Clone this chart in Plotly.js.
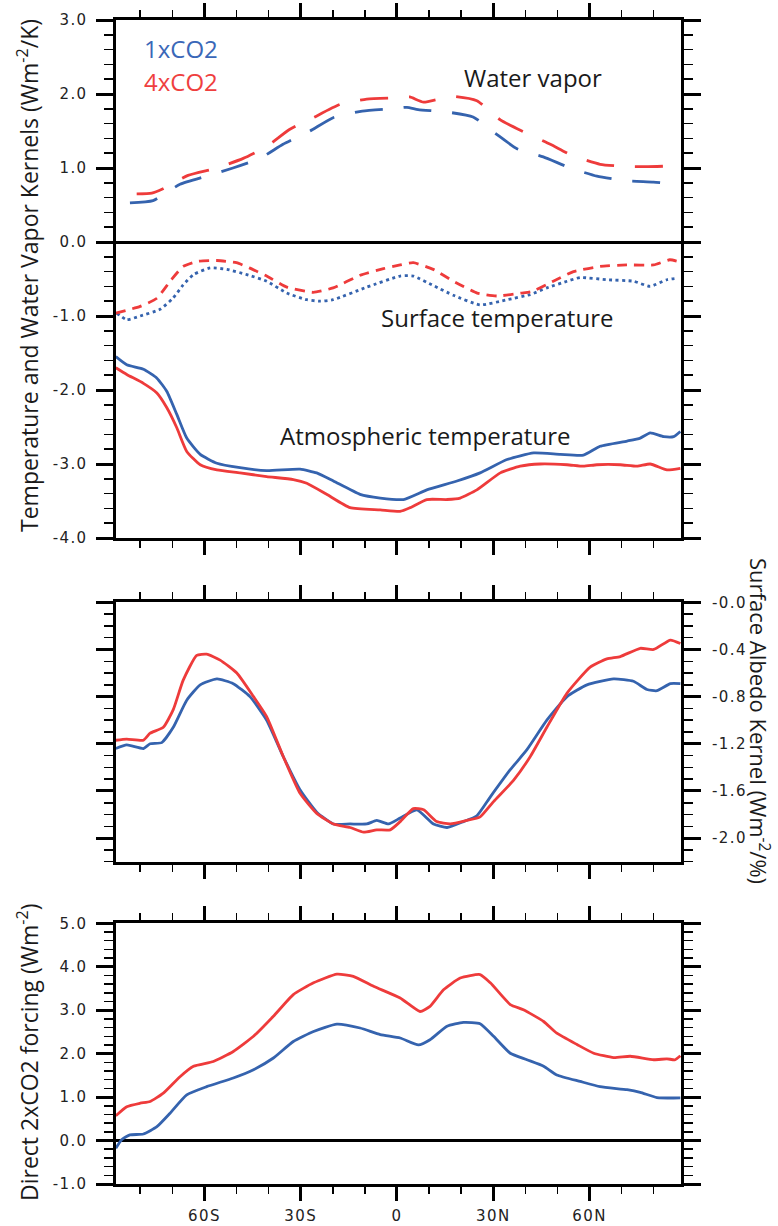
<!DOCTYPE html>
<html><head><meta charset="utf-8">
<script src="https://cdn.plot.ly/plotly-3.0.1.min.js"></script>
<style>
html,body{margin:0;padding:0;background:#fff;}
#chart{width:778px;height:1226px;}
.xaxislayer-above text,.yaxislayer-above text{letter-spacing:1.4px;}
</style></head><body><div id="chart"></div>
<script>
// ---- Data (latitude in degrees, negative = south) ----
const latWv1 = [-83.2,-76.0,-67.6,-59.3,-51.1,-42.7,-35.5,-27.1,-19.9,-10.8,-2.1,3.1,6.6,15.0,23.7,30.6,37.4,45.6,54.0,62.3,71.1,79.9,87.7];
const wv1 = [0.53,0.56,0.78,0.89,1.00,1.13,1.32,1.50,1.68,1.77,1.80,1.82,1.79,1.76,1.69,1.47,1.26,1.15,1.00,0.89,0.83,0.81,0.78];
const latWv4 = [-81.1,-76.4,-72.9,-65.1,-56.1,-47.9,-40.6,-33.5,-26.1,-17.7,-9.4,1.0,4.0,8.3,17.1,24.9,32.2,38.9,47.8,54.5,63.3,71.7,81.0,87.3,88.4];
const wv4 = [0.65,0.66,0.72,0.90,1.00,1.13,1.29,1.52,1.68,1.86,1.93,1.95,1.96,1.89,1.97,1.91,1.65,1.50,1.32,1.17,1.05,1.02,1.02,1.04,1.07];

const latSt1 = [-87.3,-84.2,-80.0,-73.8,-69.8,-66.6,-63.4,-58.2,-53.0,-46.8,-40.6,-34.3,-28.1,-23.9,-19.9,-9.4,1.0,5.1,11.4,17.6,25.9,34.3,41.5,46.7,53.0,57.1,65.4,73.7,78.9,84.1,87.3];
const st1 = [-0.96,-1.05,-1.00,-0.91,-0.76,-0.58,-0.44,-0.35,-0.37,-0.44,-0.53,-0.69,-0.78,-0.80,-0.78,-0.61,-0.46,-0.46,-0.59,-0.72,-0.85,-0.78,-0.71,-0.62,-0.53,-0.48,-0.51,-0.53,-0.60,-0.51,-0.49];
const latSt4 = [-87.6,-80.0,-74.8,-70.5,-66.6,-62.0,-56.1,-50.0,-46.0,-40.6,-34.3,-26.1,-19.9,-11.5,-4.2,1.0,5.1,11.3,17.6,25.0,31.2,38.7,42.0,48.7,55.0,63.3,71.6,80.0,85.0,88.3];
const st4 = [-0.96,-0.87,-0.76,-0.52,-0.33,-0.26,-0.25,-0.28,-0.35,-0.46,-0.61,-0.68,-0.62,-0.45,-0.36,-0.31,-0.28,-0.37,-0.53,-0.69,-0.73,-0.69,-0.67,-0.53,-0.40,-0.33,-0.31,-0.31,-0.24,-0.27];

const latAt1 = [-87.6,-84.2,-79.0,-74.8,-71.7,-68.6,-65.5,-61.3,-56.1,-48.9,-40.6,-30.2,-25.0,-19.8,-11.5,-5.2,2.0,9.3,18.7,25.9,34.3,42.6,50.9,58.1,63.3,71.7,75.8,78.9,83.1,86.2,88.3];
const at1 = [-1.55,-1.66,-1.72,-1.84,-2.02,-2.33,-2.65,-2.87,-2.99,-3.05,-3.09,-3.07,-3.12,-3.23,-3.41,-3.46,-3.48,-3.35,-3.23,-3.12,-2.94,-2.85,-2.87,-2.88,-2.76,-2.69,-2.65,-2.58,-2.63,-2.63,-2.56];
const latAt4 = [-87.6,-84.2,-79.0,-74.8,-71.7,-68.6,-65.5,-61.3,-56.1,-48.9,-40.6,-32.3,-28.1,-21.9,-14.6,-5.2,1.0,4.1,9.3,15.6,19.7,24.9,32.2,38.4,44.6,53.0,58.1,62.3,69.6,74.8,78.9,84.1,88.3];
const at4 = [-1.70,-1.79,-1.91,-2.04,-2.24,-2.51,-2.83,-3.01,-3.08,-3.12,-3.17,-3.21,-3.26,-3.41,-3.59,-3.62,-3.64,-3.59,-3.48,-3.48,-3.46,-3.35,-3.12,-3.03,-3.00,-3.01,-3.03,-3.01,-3.01,-3.03,-3.00,-3.08,-3.06];

const latAlb1 = [-87.6,-84.2,-79.0,-76.9,-73.3,-69.7,-65.5,-61.3,-56.1,-51.0,-45.8,-40.6,-35.4,-30.2,-25.0,-19.8,-14.6,-9.4,-6.3,-2.6,1.0,6.2,11.4,15.6,20.7,24.9,29.1,35.3,40.5,46.7,53.0,59.2,67.5,73.7,77.9,81.0,85.2,88.3];
const alb1 = [-1.24,-1.21,-1.24,-1.20,-1.19,-1.06,-0.83,-0.70,-0.65,-0.69,-0.80,-1.00,-1.31,-1.59,-1.78,-1.88,-1.88,-1.88,-1.85,-1.88,-1.83,-1.76,-1.88,-1.91,-1.86,-1.81,-1.65,-1.42,-1.25,-1.00,-0.80,-0.70,-0.65,-0.67,-0.74,-0.75,-0.69,-0.69];
const latAlb4 = [-87.6,-84.2,-79.0,-76.9,-72.8,-69.7,-66.6,-62.4,-59.3,-55.1,-49.9,-44.7,-40.6,-35.4,-30.2,-25.0,-19.8,-14.6,-10.4,-6.3,-2.1,1.0,5.1,8.3,12.4,16.6,21.8,25.9,30.1,36.3,41.5,46.7,53.0,60.2,65.4,69.6,75.8,80.0,85.2,88.3];
const alb4 = [-1.17,-1.16,-1.17,-1.11,-1.06,-0.91,-0.66,-0.45,-0.44,-0.49,-0.60,-0.80,-0.97,-1.31,-1.62,-1.79,-1.88,-1.91,-1.95,-1.93,-1.93,-1.86,-1.75,-1.76,-1.86,-1.88,-1.85,-1.82,-1.69,-1.51,-1.31,-1.06,-0.77,-0.55,-0.48,-0.46,-0.39,-0.40,-0.32,-0.35];

const latF1 = [-87.6,-85.8,-83.2,-79.0,-74.8,-70.7,-65.5,-59.3,-51.0,-44.7,-38.5,-32.3,-26.0,-18.7,-11.5,-5.2,1.0,6.7,10.3,15.6,20.7,25.9,30.1,35.3,40.5,45.7,49.8,57.1,63.3,71.7,75.8,81.0,88.3];
const f1 = [-0.18,0.02,0.13,0.15,0.32,0.63,1.05,1.24,1.44,1.63,1.90,2.28,2.51,2.68,2.59,2.44,2.36,2.20,2.32,2.63,2.72,2.69,2.40,2.01,1.86,1.71,1.51,1.36,1.24,1.17,1.11,0.99,0.98];
const latF4 = [-87.6,-84.2,-80.0,-76.9,-72.8,-67.6,-63.4,-57.2,-51.0,-44.7,-38.5,-32.3,-26.0,-18.7,-13.6,-7.3,1.0,7.2,10.3,14.5,19.7,25.9,29.1,35.3,39.4,45.7,49.8,56.1,61.3,67.5,72.7,80.0,84.1,86.7,88.3];
const f4 = [0.57,0.78,0.86,0.90,1.09,1.47,1.71,1.82,2.05,2.40,2.86,3.36,3.63,3.83,3.78,3.55,3.28,2.97,3.09,3.47,3.74,3.82,3.63,3.13,3.01,2.74,2.47,2.21,2.01,1.91,1.94,1.86,1.88,1.86,1.95];

// ---- Tick labels ----
const xTickVals = [-60,-30,0,30,60];
const xTickText = ['60S','30S','0','30N','60N'];
const y1TickVals = [3,2,1,0,-1,-2,-3,-4];
const y1TickText = ['3.0','2.0','1.0','0.0','-1.0','-2.0','-3.0','-4.0'];
const y2TickVals = [0,-0.4,-0.8,-1.2,-1.6,-2.0];
const y2TickText = ['-0.0','-0.4','-0.8','-1.2','-1.6','-2.0'];
const y3TickVals = [5,4,3,2,1,0,-1];
const y3TickText = ['5.0','4.0','3.0','2.0','1.0','0.0','-1.0'];

const BLUE = '#3563ae', RED = '#ee3b3b';
const LW = 2.8;
const sm = 0.5;

function tr(x, y, color, dash, xa, ya, name) {
  return {x: x, y: y, type: 'scatter', mode: 'lines', name: name, xaxis: xa, yaxis: ya,
    line: {color: color, width: LW, dash: dash, shape: 'spline', smoothing: sm}, showlegend: false, hoverinfo: 'skip'};
}

const data = [
  tr(latWv1, wv1, BLUE, '28px,21px', 'x', 'y', 'Water vapor 1xCO2'),
  tr(latWv4, wv4, RED, '28px,21px', 'x', 'y', 'Water vapor 4xCO2'),
  tr(latSt1, st1, BLUE, '3px,3.5px', 'x', 'y', 'Surface temperature 1xCO2'),
  tr(latSt4, st4, RED, '10px,7px', 'x', 'y', 'Surface temperature 4xCO2'),
  tr(latAt1, at1, BLUE, 'solid', 'x', 'y', 'Atmospheric temperature 1xCO2'),
  tr(latAt4, at4, RED, 'solid', 'x', 'y', 'Atmospheric temperature 4xCO2'),
  tr(latAlb1, alb1, BLUE, 'solid', 'x2', 'y2', 'Albedo 1xCO2'),
  tr(latAlb4, alb4, RED, 'solid', 'x2', 'y2', 'Albedo 4xCO2'),
  tr(latF1, f1, BLUE, 'solid', 'x3', 'y3', 'Forcing 1xCO2'),
  tr(latF4, f4, RED, 'solid', 'x3', 'y3', 'Forcing 4xCO2')
];

const W = 778, H = 1226;
const px = v => v / W;
const py = v => 1 - v / H;
const XDOM = [px(115.5), px(681)];
const XRANGE = [-87.7, 88.5];
const tickFont = {family: 'DejaVu Sans, Liberation Sans, sans-serif', size: 15, color: '#222'};

function xax(anchor, labels) {
  return {domain: XDOM, range: XRANGE, anchor: anchor, showgrid: false, zeroline: false,
    showline: true, linewidth: 3, linecolor: '#000', mirror: 'ticks',
    tickmode: 'array', tickvals: xTickVals, ticktext: xTickText, showticklabels: labels,
    ticks: 'outside', ticklen: 14, tickwidth: 3, tickcolor: '#000', ticklabelstandoff: 2,
    minor: {tickmode: 'linear', tick0: 0, dtick: 10, ticks: 'outside', ticklen: 7, tickwidth: 1.5, tickcolor: '#000'},
    tickfont: tickFont, fixedrange: true};
}
function yax(anchor, dom, range, vals, text, mdt, side, zero, standoff) {
  return {domain: dom, range: range, anchor: anchor, side: side, showgrid: false,
    zeroline: zero, zerolinewidth: 3, zerolinecolor: '#000',
    showline: true, linewidth: 3, linecolor: '#000', mirror: 'ticks',
    tickmode: 'array', tickvals: vals, ticktext: text,
    ticks: 'outside', ticklen: 17, tickwidth: 3, tickcolor: '#000', ticklabelstandoff: standoff,
    minor: {tickmode: 'linear', tick0: 0, dtick: mdt, ticks: 'outside', ticklen: 9, tickwidth: 1.5, tickcolor: '#000'},
    tickfont: tickFont, fixedrange: true};
}

const titleFont = {family: 'Open Sans, sans-serif', size: 23, color: '#1a1a1a'};
const rTitleFont = {family: 'Open Sans, sans-serif', size: 22, color: '#1a1a1a'};
const labFont = {family: 'Open Sans, sans-serif', size: 24, color: '#1a1a1a'};

const layout = {
  width: W, height: H, margin: {l: 0, r: 0, t: 0, b: 0, pad: 0},
  paper_bgcolor: '#fff', plot_bgcolor: '#fff', showlegend: false,
  xaxis: xax('y', false),
  xaxis2: xax('y2', false),
  xaxis3: xax('y3', true),
  yaxis: yax('x', [py(538), py(20)], [-4, 3], y1TickVals, y1TickText, 0.2, 'left', true, 5),
  yaxis2: yax('x2', [py(861.7), py(602.3)], [-2.2, 0], y2TickVals, y2TickText, 0.1, 'right', false, 8),
  yaxis3: yax('x3', [py(1184), py(923.3)], [-1, 5], y3TickVals, y3TickText, 0.2, 'left', true, 5),
  annotations: [
    {text: '1xCO2', x: px(142), y: py(48.5), xref: 'paper', yref: 'paper', xanchor: 'left', yanchor: 'middle', showarrow: false, font: Object.assign({}, labFont, {color: '#3a67b8'})},
    {text: '4xCO2', x: px(142), y: py(81.5), xref: 'paper', yref: 'paper', xanchor: 'left', yanchor: 'middle', showarrow: false, font: Object.assign({}, labFont, {color: '#ef3f3f'})},
    {text: 'Water vapor', x: px(533), y: py(77), xref: 'paper', yref: 'paper', xanchor: 'center', yanchor: 'middle', showarrow: false, font: labFont},
    {text: 'Surface temperature', x: px(497), y: py(318), xref: 'paper', yref: 'paper', xanchor: 'center', yanchor: 'middle', showarrow: false, font: labFont},
    {text: 'Atmospheric temperature', x: px(425), y: py(435), xref: 'paper', yref: 'paper', xanchor: 'center', yanchor: 'middle', showarrow: false, font: labFont},
    {text: 'Temperature and Water Vapor Kernels (Wm<sup>-2</sup>/K)', x: px(28), y: py(276), xref: 'paper', yref: 'paper', xanchor: 'center', yanchor: 'middle', textangle: -90, showarrow: false, font: titleFont},
    {text: 'Surface Albedo Kernel (Wm<sup>-2</sup>/%)', x: px(760), y: py(721), xref: 'paper', yref: 'paper', xanchor: 'center', yanchor: 'middle', textangle: 90, showarrow: false, font: rTitleFont},
    {text: 'Direct 2xCO2 forcing (Wm<sup>-2</sup>)', x: px(28), y: py(1052), xref: 'paper', yref: 'paper', xanchor: 'center', yanchor: 'middle', textangle: -90, showarrow: false, font: titleFont}
  ]
};

Plotly.newPlot('chart', data, layout, {staticPlot: true, displayModeBar: false});
</script></body></html>
